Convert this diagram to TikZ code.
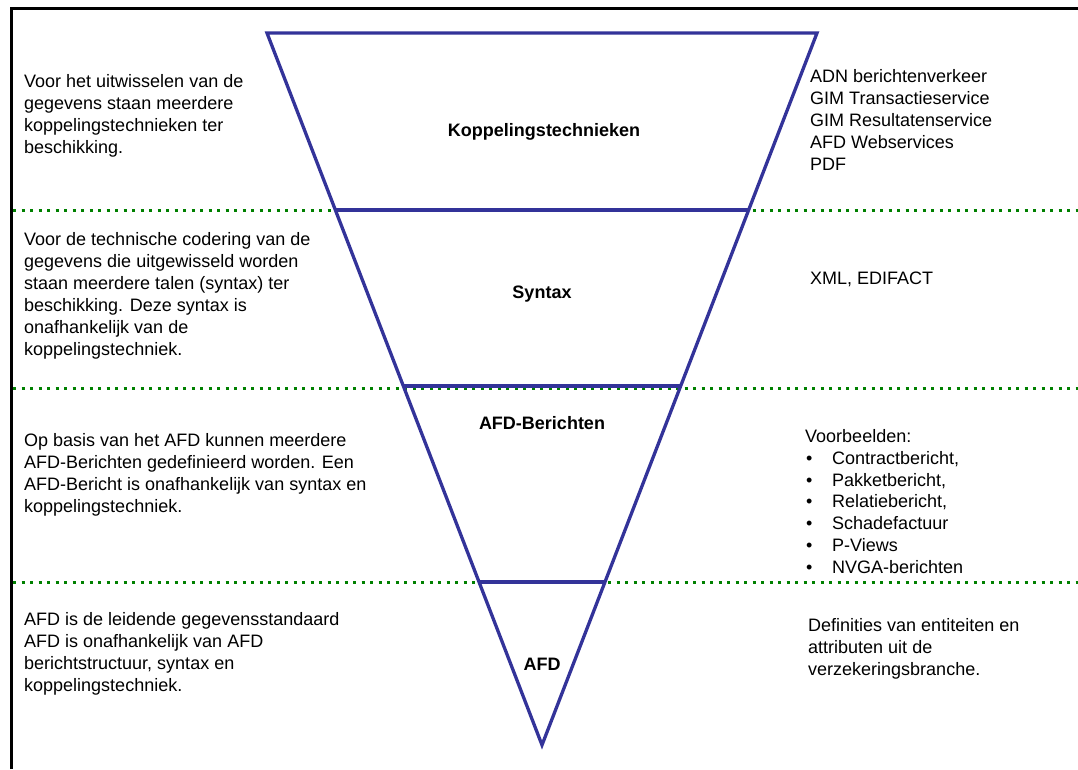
\documentclass[tikz,border=0pt]{standalone}
\usepackage{fontspec}
\setmainfont{Liberation Sans}
\usetikzlibrary{calc}
\definecolor{triblue}{HTML}{333399}
\definecolor{sepgreen}{HTML}{008000}
\begin{document}
\begin{tikzpicture}[x=1pt,y=-1pt,
  txt/.style={inner sep=0pt,align=left,font=\fontsize{18}{21.9}\selectfont},
  lbl/.style={inner sep=0pt,font=\fontsize{18}{20}\selectfont\bfseries},
  tri/.style={draw=triblue,line width=3.3pt,line join=miter},
  sep/.style={draw=sepgreen,line width=3pt,dash pattern=on 3pt off 5.5pt},
  frame/.style={draw=black,line width=3pt}]
\useasboundingbox (0,0) rectangle (1078,769);
\fill[white] (0,0) rectangle (1078,769);
% frame
\coordinate (f0) at (11,769);
\coordinate (f1) at (11,8);
\coordinate (f2) at (1078,8);
\draw[frame] (f0) -- (f1) -- (f2);
% triangle corners
\coordinate (tl) at (267,33);
\coordinate (tr) at (817,33);
\coordinate (ap) at (542,745);
% level points
\coordinate (l1) at ($(tl)!0.2486!(ap)$);
\coordinate (r1) at ($(tr)!0.2486!(ap)$);
\coordinate (l2) at ($(tl)!0.4958!(ap)$);
\coordinate (r2) at ($(tr)!0.4958!(ap)$);
\coordinate (l3) at ($(tl)!0.7711!(ap)$);
\coordinate (r3) at ($(tr)!0.7711!(ap)$);
% green separators
\coordinate (g1a) at (13,210);  \coordinate (g1b) at (1078,210);
\coordinate (g2a) at (13,388);  \coordinate (g2b) at (1078,388);
\coordinate (g3a) at (13,582);  \coordinate (g3b) at (1078,582);
\draw[sep] (g1a) -- (g1b);
\draw[sep] (g2a) -- (g2b);
\draw[sep] (g3a) -- (g3b);
% triangle
\draw[tri] (tl) -- (tr) -- (ap) -- cycle;
\draw[tri] (l1) -- (r1);
\draw[tri] (l2) -- (r2);
\draw[tri] (l3) -- (r3);
% centre labels
\node[lbl] (k) at (544,132) {Koppelingstechnieken};
\node[lbl] (s) at (542,294) {Syntax};
\node[lbl] (b) at (542,423) {AFD-Berichten};
\node[lbl] (a) at (542,664) {AFD};
% left texts
\node[txt,anchor=west] (t1) at (24,116) {Voor het uitwisselen van de\\gegevens staan meerdere\\koppelingstechnieken ter\\beschikking.};
\node[txt,anchor=west] (t2) at (24,296) {Voor de technische codering van de\\gegevens die uitgewisseld worden\\staan meerdere talen (syntax) ter\\beschikking. Deze syntax is\\onafhankelijk van de\\koppelingstechniek.};
\node[txt,anchor=west] (t3) at (24,475) {Op basis van het AFD kunnen meerdere\\AFD-Berichten gedefinieerd worden. Een\\AFD-Bericht is onafhankelijk van syntax en\\koppelingstechniek.};
\node[txt,anchor=west] (t4) at (24,654) {AFD is de leidende gegevensstandaard\\AFD is onafhankelijk van AFD\\berichtstructuur, syntax en\\koppelingstechniek.};
% right texts
\node[txt,anchor=west] (u1) at (810,120) {ADN berichtenverkeer\\GIM Transactieservice\\GIM Resultatenservice\\AFD Webservices\\PDF};
\node[txt,anchor=west] (u2) at (810,279) {XML, EDIFACT};
\node[txt,anchor=west] (u3) at (805,501.5) {Voorbeelden:\\
\hspace*{1pt}\makebox[26pt][l]{\textbullet}Contractbericht,\\
\hspace*{1pt}\makebox[26pt][l]{\textbullet}Pakketbericht,\\
\hspace*{1pt}\makebox[26pt][l]{\textbullet}Relatiebericht,\\
\hspace*{1pt}\makebox[26pt][l]{\textbullet}Schadefactuur\\
\hspace*{1pt}\makebox[26pt][l]{\textbullet}P-Views\\
\hspace*{1pt}\makebox[26pt][l]{\textbullet}NVGA-berichten};
\node[txt,anchor=west] (u4) at (808,649) {Definities van entiteiten en\\attributen uit de\\verzekeringsbranche.};
\end{tikzpicture}
\end{document}
